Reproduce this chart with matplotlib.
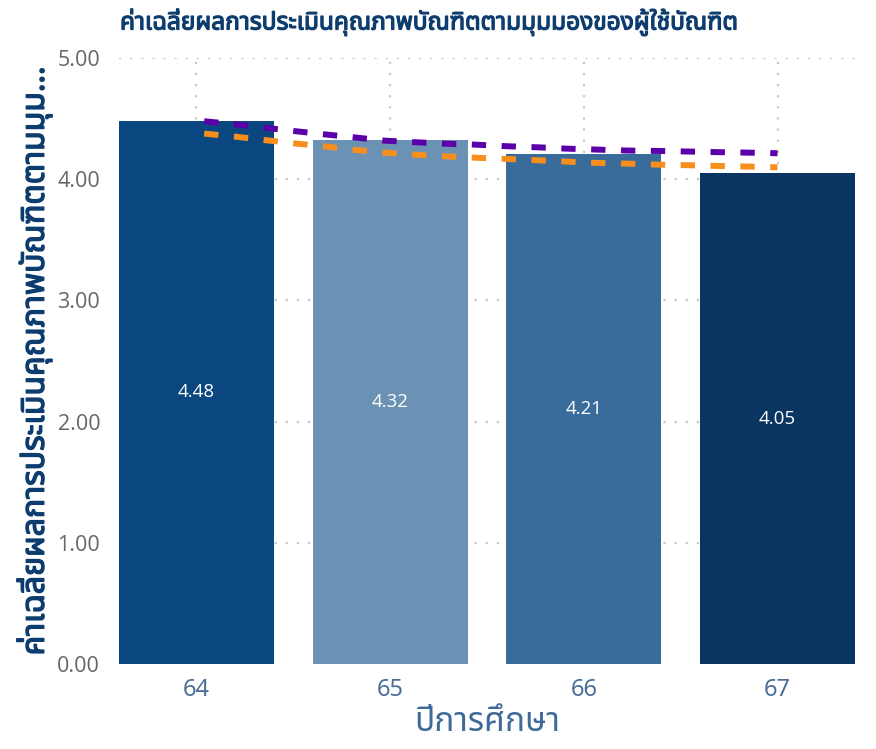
import matplotlib
matplotlib.use("Agg")
import matplotlib.pyplot as plt
from matplotlib import font_manager as fm
from matplotlib import patheffects as pe
from matplotlib.ft2font import FT2Font

# ---------------- data ----------------
years = [64, 65, 66, 67]
year_labels = ["64", "65", "66", "67"]
scores = [4.48, 4.32, 4.21, 4.05]
bar_colors = ["#0A4680", "#6B92B4", "#3A6C9B", "#093560"]

trend_x = [64.04, 64.20, 64.35, 64.50, 64.66, 64.81, 64.97, 65.13, 65.28, 65.44,
           65.60, 65.76, 65.91, 66.07, 66.23, 66.38, 66.54, 66.69, 66.85, 67.00]
trend_purple = [4.478, 4.453, 4.425, 4.398, 4.370, 4.346, 4.318, 4.305, 4.293, 4.285,
                4.272, 4.263, 4.252, 4.244, 4.236, 4.233, 4.228, 4.223, 4.219, 4.214]
trend_orange = [4.376, 4.351, 4.323, 4.296, 4.271, 4.243, 4.219, 4.202, 4.189, 4.177,
                4.167, 4.156, 4.145, 4.134, 4.128, 4.120, 4.115, 4.109, 4.104, 4.098]

title = "ค่าเฉลี่ยผลการประเมินคุณภาพบัณฑิตตามมุมมองของผู้ใช้บัณฑิต"
ylabel = "ค่าเฉลี่ยผลการประเมินคุณภาพบัณฑิตตามมุม..."
xlabel = "ปีการศึกษา"

# ---------------- find a Thai-capable font ----------------
def find_thai_font():
    prefs = []
    for f in fm.fontManager.ttflist:
        try:
            cm = FT2Font(f.fname).get_charmap()
        except Exception:
            continue
        if 0x0E01 in cm and 0x0E48 in cm:
            prefs.append(f.name)
    for p in ["Noto Sans Thai", "Noto Sans Thai UI", "Sarabun", "Loma", "Garuda", "Tlwg Typo"]:
        if p in prefs:
            return p
    return prefs[0] if prefs else None

thai = find_thai_font()
fam = ([thai] if thai else []) + ["DejaVu Sans"]
plt.rcParams["font.family"] = fam
num_fam = ["Open Sans", "DejaVu Sans"]

# ---------------- figure ----------------
fig = plt.figure(figsize=(8.76, 7.49), dpi=100)
ax = fig.add_axes([0.1358, 0.1135, 0.8402, 0.8091])

ax.set_xlim(63.6, 67.4)
ax.set_ylim(0, 5)

# grid
grid_kw = dict(color="#C8C8C8", linewidth=1.6, linestyle=(0, (1, 4)), zorder=0)
for v in [1, 2, 3, 4, 5]:
    ax.axhline(v, **grid_kw)
for x in years:
    ax.axvline(x, **grid_kw)

bars = ax.bar(years, scores, width=0.8, color=bar_colors, zorder=2)
for x, v in zip(years, scores):
    ax.text(x, v / 2, f"{v:.2f}", ha="center", va="center", color="white",
            fontsize=13.5, zorder=4, family=num_fam)

ax.plot(trend_x, trend_purple, color="#5B00A8", linewidth=4.3,
        linestyle=(0, (2.4, 2.6)), zorder=3, dash_capstyle="butt")
ax.plot(trend_x, trend_orange, color="#F88E1C", linewidth=4.3,
        linestyle=(0, (2.4, 2.6)), zorder=3, dash_capstyle="butt")

for s in ax.spines.values():
    s.set_visible(False)
ax.tick_params(length=0)
ax.set_xticks(years)
ax.set_xticklabels(year_labels, color="#4A6F96", fontsize=17)
ax.set_yticks([0, 1, 2, 3, 4, 5])
ax.set_yticklabels([f"{v:.2f}" for v in [0, 1, 2, 3, 4, 5]], color="#666666",
                   fontsize=15.5, family=num_fam)
ax.tick_params(axis="x", pad=10)
ax.tick_params(axis="y", pad=13.5)

bold = lambda c, w: [pe.withStroke(linewidth=w, foreground=c)]

ax.set_xlabel(xlabel, color="#3E6A9A", fontsize=24, labelpad=3)
yl = ax.set_ylabel(ylabel, color="#0D3C6E", fontsize=23, labelpad=4)
yl.set_path_effects(bold("#0D3C6E", 1.0))

t = fig.text(0.137, 0.970, title, color="#0D3C6E", fontsize=17.6,
             ha="left", va="center")
t.set_path_effects(bold("#0D3C6E", 0.9))

fig.savefig("out.png", dpi=100)
